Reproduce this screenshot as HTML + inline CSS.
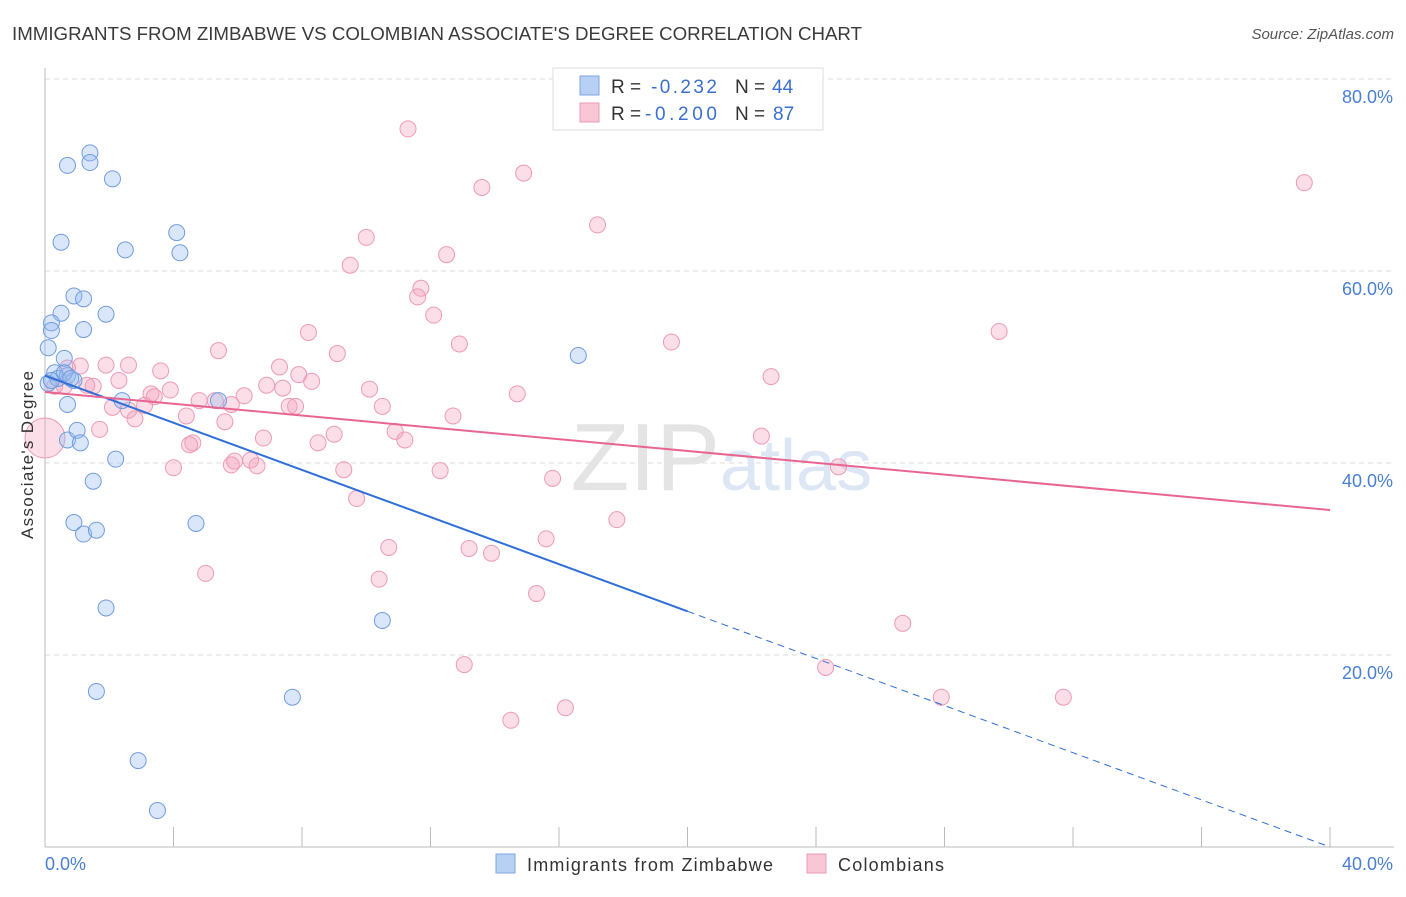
<!DOCTYPE html>
<html><head><meta charset="utf-8"><style>
body{margin:0;background:#fff;font-family:"Liberation Sans",sans-serif;}
svg text{font-family:"Liberation Sans",sans-serif;}
</style></head><body>
<svg id="chart" width="1406" height="892">
<text x="12" y="40" font-size="18" fill="#3a3a3a" textLength="850" lengthAdjust="spacingAndGlyphs">IMMIGRANTS FROM ZIMBABWE VS COLOMBIAN ASSOCIATE'S DEGREE CORRELATION CHART</text>
<text x="1394" y="39" font-size="15" fill="#555" text-anchor="end" font-style="italic">Source: ZipAtlas.com</text>
<g id="grid"></g>
<text x="720" y="490" font-size="96" fill="#e4e4e4" font-family="Liberation Serif" text-anchor="end">ZIP</text>
<text x="720" y="490" font-size="72" fill="#dde6f4">atlas</text>
<g id="axes"></g>
<g id="pinkpts"></g>
<g id="bluepts"></g>
<g id="lines"></g>
<text transform="translate(33,455) rotate(-90)" font-size="17" fill="#333" text-anchor="middle" textLength="168">Associate's Degree</text>
<g>
<rect x="553" y="68" width="270" height="62" fill="#fff" stroke="#ddd"/>
<rect x="580" y="76" width="19" height="19" fill="#b8d0f4" stroke="#7fa6e0"/>
<rect x="580" y="103" width="19" height="19" fill="#f9c6d6" stroke="#eb9ab5"/>
<text x="611" y="93" font-size="19" fill="#333">R =</text>
<text x="651" y="93" font-size="19" fill="#3a6fd0" textLength="66">-0.232</text>
<text x="735" y="93" font-size="19" fill="#333">N =</text>
<text x="772" y="93" font-size="19" fill="#3a6fd0">44</text>
<text x="611" y="120" font-size="19" fill="#333">R =</text>
<text x="645" y="120" font-size="19" fill="#3a6fd0" textLength="72">-0.200</text>
<text x="735" y="120" font-size="19" fill="#333">N =</text>
<text x="773" y="120" font-size="19" fill="#3a6fd0">87</text>
</g>
<g>
<rect x="496" y="854" width="19" height="19" fill="#b8d0f4" stroke="#7fa6e0"/>
<text x="527" y="871" font-size="18" fill="#333" textLength="246">Immigrants from Zimbabwe</text>
<rect x="807" y="854" width="19" height="19" fill="#f9c6d6" stroke="#eb9ab5"/>
<text x="838" y="871" font-size="18" fill="#333" textLength="106">Colombians</text>
</g>
</svg>
<script>
const yTicks=[20,40,60,80];
const xTickLabels=["0.0%","40.0%"];
const blueX=[0.7,1.4,1.4,2.1,0.5,2.5,4.1,4.2,0.9,1.2,0.5,1.9,0.2,0.2,1.2,0.1,0.6,16.6,0.3,0.1,0.4,0.7,0.9,0.2,0.7,2.4,5.4,0.7,1.0,1.1,2.2,1.5,0.9,1.2,1.6,4.7,1.9,10.5,1.6,7.7,2.9,3.5,0.6,0.8];
const blueY=[71,72.3,71.3,69.6,63,62.2,64,61.9,57.4,57.1,55.6,55.5,54.6,53.8,53.9,52,50.9,51.2,49.4,48.3,48.8,49.1,48.6,48.6,46.1,46.5,46.5,42.4,43.4,42.1,40.4,38.1,33.8,32.6,33,33.7,24.9,23.6,16.2,15.6,9,3.8,49.4,48.8];
const pinkX=[11.3,14.9,13.6,17.2,39.2,10,12.5,9.5,11.7,11.6,12.1,8.2,29.7,19.5,12.9,9.1,5.4,2.6,3.6,1.9,7.3,1.1,0.7,7.9,8.3,22.6,2.3,1.5,1.3,6.9,7.4,10.1,3.3,3.9,3.4,4.8,5.3,5.8,6.2,2.1,2.6,2.8,4.4,5.6,7.6,7.8,10.5,14.7,12.7,4.6,1.7,4.5,6.8,9,8.5,10.9,11.2,22.3,4,5.9,6.4,6.6,9.3,12.3,15.8,24.7,9.7,17.8,15.6,10.7,13.2,13.9,10.4,5,15.3,26.7,13.05,24.3,27.9,31.7,16.2,14.5,0.6,0.3,0,3.1,5.8];
const pinkY=[74.8,70.2,68.7,64.8,69.2,63.5,61.7,60.6,58.2,57.3,55.4,53.6,53.7,52.6,52.4,51.4,51.7,50.2,49.6,50.2,50,50.1,49.9,49.2,48.5,49,48.6,48,48.1,48.1,47.8,47.7,47.2,47.6,46.9,46.5,46.5,46.1,47,45.8,45.5,44.6,44.9,44.3,45.9,45.9,45.9,47.2,44.9,42.1,43.5,41.9,42.6,43,42.1,43.3,42.4,42.8,39.5,40.2,40.3,39.7,39.3,39.2,38.4,39.6,36.3,34.1,32.1,31.2,31.1,30.6,27.9,28.5,26.4,23.3,19,18.7,15.6,15.6,14.5,13.2,48,48,42.6,46,39.8];
const blueLine=[49.1,0];
const pinkLine=[47.4,35.1];
const X0=45,X1=1330,Y0=847,Y80=79;
const xs=v=>X0+(X1-X0)*v/40, ys=v=>Y0-(Y0-Y80)*v/80;
const NS="http://www.w3.org/2000/svg";
function mk(p,t,a){const e=document.createElementNS(NS,t);for(const k in a)e.setAttribute(k,a[k]);p.appendChild(e);return e;}
const grid=document.getElementById('grid');
yTicks.forEach(t=>{
  const l=mk(grid,'line',{x1:X0,x2:1394,y1:ys(t),y2:ys(t),stroke:'#ddd','stroke-dasharray':'5,4'});
  
  
  const tx=mk(grid,'text',{x:1393,y:ys(t)+24,'font-size':18,fill:'#4a7fd4','text-anchor':'end'});
  tx.textContent=t.toFixed(1)+'%';
  
  
});
const ax=document.getElementById('axes');
mk(ax,'line',{x1:X0,x2:X0,y1:68,y2:Y0,stroke:'#bbb'});
mk(ax,'line',{x1:X0,x2:1394,y1:Y0,y2:Y0,stroke:'#bbb'});
for(let i=0;i<=10;i++){mk(ax,'line',{x1:xs(i*4),x2:xs(i*4),y1:827,y2:Y0,stroke:'#bbb'});}
xTickLabels.forEach((s,i)=>{
  const t=mk(ax,'text',{x:i?1393:45,y:870,'font-size':18,fill:'#4a7fd4','text-anchor':i?'end':'start'});
  t.textContent=s;
  
  
});
const pg=document.getElementById('pinkpts');
pinkX.forEach((x,i)=>{
  const c=mk(pg,'circle',{cx:xs(x),cy:ys(pinkY[i]),r:(x===0?20:8),fill:'rgba(244,160,188,0.35)',stroke:'#ee9ab6','stroke-width':1});
  
  
});
const bg=document.getElementById('bluepts');
blueX.forEach((x,i)=>{
  const c=mk(bg,'circle',{cx:xs(x),cy:ys(blueY[i]),r:8,fill:'rgba(150,185,240,0.35)',stroke:'#6f9ce0','stroke-width':1});
  
  
});
const lg=document.getElementById('lines');
const bAt=x=>blueLine[0]+(blueLine[1]-blueLine[0])*x/40;
const l1=mk(lg,'line',{x1:xs(0),y1:ys(bAt(0)),x2:xs(20),y2:ys(bAt(20)),stroke:'#2f6fd8','stroke-width':2});


const l2=mk(lg,'line',{x1:xs(20),y1:ys(bAt(20)),x2:xs(40),y2:ys(bAt(40)),stroke:'#2f6fd8','stroke-width':1,'stroke-dasharray':'7,5'});


const l3=mk(lg,'line',{x1:xs(0),y1:ys(pinkLine[0]),x2:xs(40),y2:ys(pinkLine[1]),stroke:'#e86592','stroke-width':2});


</script>
</body></html>
